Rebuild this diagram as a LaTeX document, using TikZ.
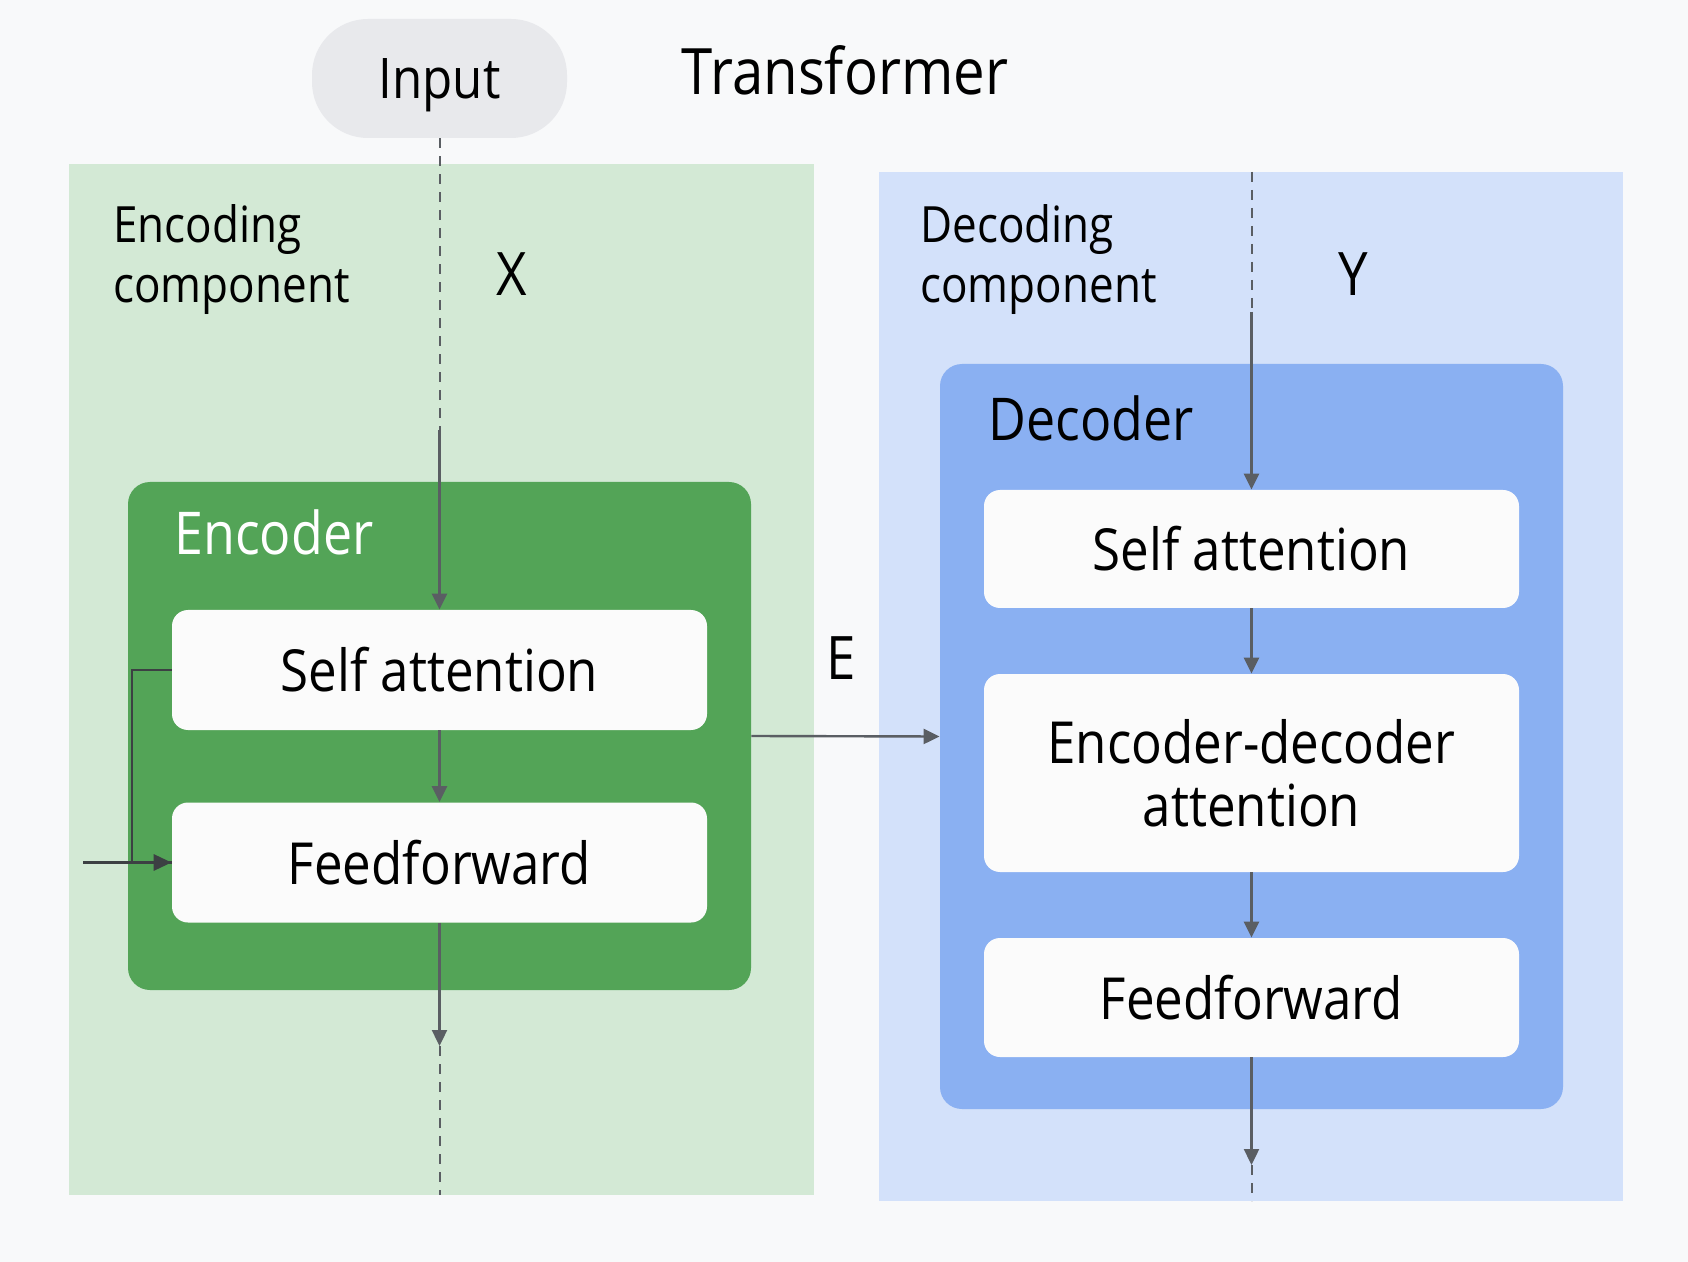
\documentclass[tikz,border=0pt]{standalone}
\usepackage{fontspec}
\setmainfont{Open Sans}[FakeStretch=0.88]
\usetikzlibrary{arrows.meta}
\definecolor{bg}{HTML}{F8F9FA}
\definecolor{greenpanel}{HTML}{D3E9D5}
\definecolor{greenbox}{HTML}{53A457}
\definecolor{bluepanel}{HTML}{D3E1FA}
\definecolor{bluebox}{HTML}{8AB0F2}
\definecolor{boxwhite}{HTML}{FBFBFB}
\definecolor{pillgray}{HTML}{E8E9EC}
\definecolor{linegray}{HTML}{5A5E63}
\definecolor{darkline}{HTML}{3C4043}
\begin{document}
\begin{tikzpicture}[x=0.5pt,y=-0.5pt,
  panel/.style={rectangle, inner sep=0pt, draw=none},
  block/.style={rectangle, rounded corners=8pt, fill=boxwhite, minimum width=267.5pt,
    inner sep=0pt, align=center, font=\fontsize{29}{31.5}\selectfont},
  arr/.style={draw=linegray, line width=1.2pt, -{Triangle[length=8pt,width=7.5pt]}},
  dashln/.style={draw=linegray, line width=1pt, dash pattern=on 5pt off 4pt},
  lbl/.style={inner sep=0pt, align=left, font=\fontsize{25}{30}\selectfont},
  big/.style={inner sep=0pt, font=\fontsize{30}{32}\selectfont}]
\fill[bg] (0,0) rectangle (1688,1262);
\useasboundingbox (0,0) rectangle (1688,1262);

% panels
\node[panel, fill=greenpanel, minimum width=372.5pt, minimum height=515.5pt] (encpanel) at (441.5,679.5) {};
\node[panel, fill=bluepanel, minimum width=372pt, minimum height=514.5pt] (decpanel) at (1251,686.5) {};
\node[panel, fill=greenbox, rounded corners=11pt, minimum width=311.5pt, minimum height=254pt] (enc) at (439.5,736) {};
\node[panel, fill=bluebox, rounded corners=11pt, minimum width=311.5pt, minimum height=372.5pt] (dec) at (1251.5,736.5) {};

% titles
\node[rectangle, fill=pillgray, rounded corners=28pt, minimum width=127.5pt, minimum height=59.5pt, inner sep=0pt] (input) at (439.5,78.5) {};
\node[big, anchor=base, font=\fontsize{28}{30}\selectfont] (inputtxt) at (439.5,99) {Input};
\node[big, anchor=base, font=\fontsize{32}{34}\selectfont] (title) at (845,95) {Transformer};
\node[lbl, anchor=west] (enclbl) at (113,260) {Encoding\\component};
\node[lbl, anchor=west] (declbl) at (920,260) {Decoding\\component};
\node[big, anchor=base] (xl) at (512,296) {X};
\node[big, anchor=base] (yl) at (1353,296) {Y};
\node[big, anchor=base] (el) at (841,680) {E};
\node[big, anchor=base west, text=white, font=\fontsize{29.5}{31}\selectfont] (enctitle) at (174,555) {Encoder};
\node[big, anchor=base west, font=\fontsize{29.5}{31}\selectfont] (dectitle) at (988,441) {Decoder};

% blocks
\node[block, minimum height=60pt] (esa) at (439.5,670) {Self attention};
\node[block, minimum height=60pt] (eff) at (439.5,862.5) {Feedforward};
\node[block, minimum height=59pt] (dsa) at (1251.5,549) {Self attention};
\node[block, minimum height=99pt] (ded) at (1251.5,773) {Encoder-decoder\\attention};
\node[block, minimum height=59.5pt] (dff) at (1251.5,997.5) {Feedforward};

% coordinates
\coordinate (encdash) at (439.5,430);
\coordinate (encout) at (439.5,1046);
\coordinate (encend) at (439.5,1195);
\coordinate (loopin) at (83,862.5);
\coordinate (dectop) at (1251.5,172);
\coordinate (decdash) at (1251.5,312);
\coordinate (decout) at (1251.5,1165);
\coordinate (decend) at (1251.5,1201);

% encoder connectors
\draw[dashln] (input.south) -- (encdash);
\draw[arr] (encdash) -- (esa.north);
\draw[arr] (esa.south) -- (eff.north);
\draw[draw=darkline, line width=1.1pt] (esa.west) -- ++(-40,0) |- (eff.west);
\draw[draw=darkline, line width=1.6pt, -{Triangle[length=9pt,width=8pt]}] (loopin) -- (eff.west);
\draw[arr] (eff.south) -- (encout);
\draw[dashln] (encout) -- (encend);
\draw[arr] (enc.east) -- (dec.west);

% decoder connectors
\draw[dashln] (dectop) -- (decdash);
\draw[arr] (decdash) -- (dsa.north);
\draw[arr] (dsa.south) -- (ded.north);
\draw[arr] (ded.south) -- (dff.north);
\draw[arr] (dff.south) -- (decout);
\draw[dashln] (decout) -- (decend);
\end{tikzpicture}
\end{document}
